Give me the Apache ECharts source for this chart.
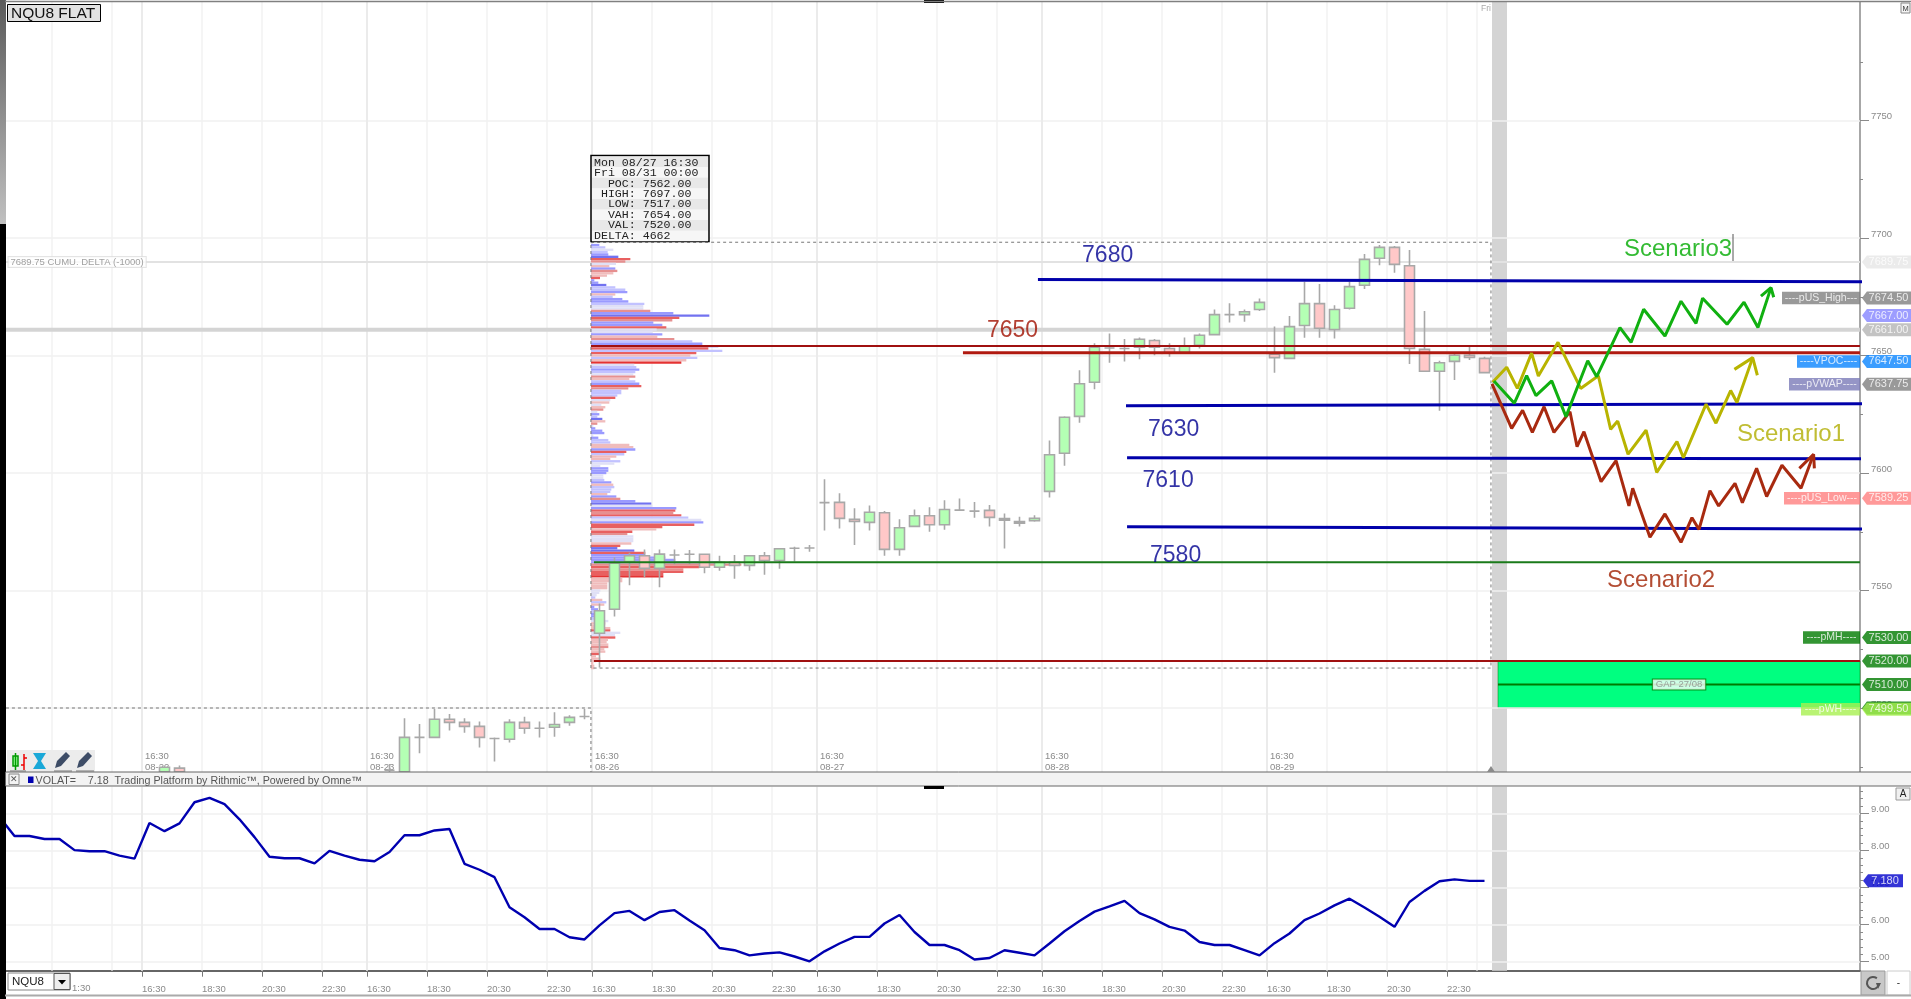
<!DOCTYPE html>
<html><head><meta charset="utf-8"><title>NQU8</title>
<style>html,body{margin:0;padding:0;background:#fff;overflow:hidden}#c{width:1911px;height:999px}</style>
<script src="https://cdn.jsdelivr.net/npm/echarts@6/dist/echarts.min.js"></script></head>
<body><div id="c"></div>
<script>
// ---------- data ----------
// candles: [bar, open, close, low, high]
const candles = [
[10,7472.9,7474.8,7472.9,7475.5],[11,7474.4,7472.9,7472.9,7475.5],[25,7473.5,7473.5,7472.9,7476.2],
[26,7472.9,7487.5,7472.9,7495.6],[27,7487.5,7487.5,7480.7,7493.2],[28,7487.5,7495.2,7487.1,7499.6],[29,7495.2,7493.9,7490.4,7497.5],
[30,7493.9,7492.2,7489.5,7495.6],[31,7492.2,7487.5,7483.2,7494.3],[32,7487,7487,7477.2,7487.4],[33,7486.7,7493.9,7485.3,7495.2],
[34,7493.9,7491.4,7489,7496.3],[35,7491.4,7491.4,7487.4,7494.3],[36,7491.8,7493,7487.8,7498.2],[37,7493.9,7496,7492.5,7496.9],[38,7496.4,7496.4,7495.2,7499.6],
[39,7531.8,7541.4,7517.25,7544.5],[40,7542,7561.6,7538.9,7564.1],[41,7562.3,7564.8,7552.2,7566.1],[42,7564.8,7559.4,7555.6,7567.5],
[43,7559.4,7565.5,7551.4,7567.5],[44,7565.1,7565.1,7561.1,7567.5],[45,7565.4,7565.4,7561.1,7567.2],[46,7565.4,7559.9,7557.3,7565.6],
[47,7559.9,7562,7558.4,7564.8],[48,7562,7560.7,7555,7565.1],[49,7560.7,7564.8,7558.4,7565],[50,7564.8,7562.8,7556.7,7566.4],
[51,7562.8,7567.8,7559.3,7568],[52,7568,7568,7562.3,7568.6],[53,7568.1,7568.1,7566.5,7569.4],[54,7587.4,7587.4,7575.5,7597.3],
[55,7587.5,7580.7,7576.4,7591.4],[56,7580.3,7579.4,7569.4,7585],[57,7579,7583.3,7575.5,7586.2],[58,7583.1,7567.5,7564.8,7583.8],
[59,7567.5,7576.7,7564.8,7580.3],[60,7577.3,7581.8,7577.3,7584.5],[61,7581.8,7578,7575,7585.4],[62,7578,7584.5,7575.9,7588.4],
[63,7584.2,7584.2,7584,7589.2],[64,7583.8,7583.8,7581,7587.7],[65,7584.1,7581.1,7577.2,7586.4],[66,7580.6,7579.9,7567.9,7582.8],
[67,7579.3,7578.6,7577.2,7581.4],[68,7579.7,7580.7,7579.3,7582],[69,7592.2,7607.8,7589.6,7613.8],[70,7608.4,7623.7,7603.1,7624.2],
[71,7624.1,7638,7621.4,7643.7],[72,7638.6,7653.5,7635.6,7655.2],[73,7653.2,7653.2,7646.9,7659.4],[74,7653,7653,7647.4,7657],
[75,7653.5,7656.9,7648.4,7657.7],[76,7656.4,7653.5,7650.1,7657],[77,7653,7651.2,7649.5,7655.2],[78,7651.2,7654,7650.9,7657.7],
[79,7654.3,7658.6,7653,7659.4],[80,7658.9,7667.4,7658.6,7669.6],[81,7667.4,7667.4,7664,7672.2],[82,7667.4,7668.6,7664.4,7669.6],
[83,7669.6,7672.6,7668.9,7674.3],[84,7650.6,7649.1,7642.7,7662.3],[85,7648.8,7662.3,7648.4,7666.8],[86,7662.8,7672.1,7657.6,7681.4],
[87,7672.1,7661.6,7657.6,7680.4],[88,7661.1,7669.6,7657.2,7671.4],[89,7670.1,7679.3,7669.6,7681.4],[90,7679.9,7690.9,7678.3,7693.2],
[91,7691.4,7696,7688.4,7697],[92,7696,7688.8,7685.2,7696.6],[93,7688.2,7653,7646.4,7694.9],[94,7652.6,7643.3,7643.3,7668.9],
[95,7643.3,7646.9,7626.5,7647.8],[96,7647.5,7650.1,7639.6,7650.6],[97,7650.1,7649.2,7648.1,7653.8],[98,7648.8,7642.7,7642.7,7649.5]
];
const barSlots = Array.from({length:124},(_, i)=>String(i));

// volume profile, top price level first
const profileTopPrice = 7697;
const profileVolumes = [
25,43,67,50,52,82,118,103,75,55,
73,79,67,48,27,10,22,46,73,103,
109,73,65,94,112,160,157,157,178,247,
355,265,244,187,214,226,197,185,214,199,
250,304,334,382,352,394,316,298,319,286,
271,130,136,145,133,127,133,115,133,145,
151,112,91,91,79,73,58,55,31,43,
37,19,25,19,34,43,19,7,13,34,
40,7,22,52,58,115,127,133,106,100,
76,58,88,70,28,52,52,46,37,37,
40,61,67,70,61,58,49,76,88,133,
181,184,256,253,247,271,292,331,337,310,
214,196,124,109,127,127,127,121,88,79,
130,163,163,223,253,394,451,325,277,277,
217,217,94,94,49,49,49,28,25,17,
13,34,46,40,10,21,28,15,15,15,
52,43,15,58,58,88,72,73,51,47,
52,52,40,43,25,15,28,15,7,10,10];
const profileKinds = ("blplbBrmpk"+"bmkkrbbBll"+"bklbblppmb"+"Brmbbrppbk"+"mlbBrlrklk"+"Rplblpmklb"+"rmlllrpkpk"+"mpblBkmpbb"+"bpbllkkbrl"+"kklppbbbpp"+"lbklllkbmb"+"Bpbrmrlpbr"+"rkrmpppkrB"+"Brbbbbmrmr"+"rRkkkkkppp"+"lklkbblbbl"+"pkkkrpprkk"+"kmkkrkkkkkk").split("");
const profileColors = {B:"#7272f0",b:"#9a9aff",l:"#c2c2ff",p:"#e0e0f6",R:"#e43232",r:"#e86060",m:"#e69090",k:"#f0bcbc"};

// volatility study, one value per bar, starting one bar before the first
const volat = [8.9,8.39,8.39,8.31,8.31,8.01,7.98,7.98,7.86,7.78,8.74,8.52,8.73,9.30,9.42,9.25,8.84,8.36,7.83,7.79,7.79,7.65,7.99,7.86,7.75,7.71,7.96,8.41,8.41,8.54,8.58,7.64,7.48,7.28,6.47,6.2,5.88,5.88,5.66,5.6,5.98,6.31,6.37,
6.12,6.34,6.39,6.11,5.85,5.37,5.31,5.17,5.22,5.25,5.14,5.01,5.28,5.49,5.67,5.67,6.03,6.26,5.8,5.45,5.45,5.31,5.06,5.1,5.31,5.24,5.17,5.49,5.82,6.1,6.35,6.49,6.64,6.31,6.14,5.94,5.84,5.53,5.45,5.45,5.31,5.17,5.5,5.76,6.12,6.3,6.52,6.7,6.46,6.21,5.94,6.61,6.91,7.17,7.22,7.18,7.18];

// hand-drawn scenario paths: [bar position, price]
const scenario3 = [[99.13,7639.2],[100.49,7629.7],[101.31,7641.4],[101.93,7632.9],[102.98,7639.2],[103.93,7624],[105.38,7647.8],[105.98,7641],[107.53,7661.9],[108.27,7655.6],[109.11,7669.7],[110.53,7658.3],[111.6,7673.1],[112.6,7663.7],[113.04,7674.4],[114.67,7663.3],[115.8,7672.7],[116.73,7661.9],[117.6,7678.9]];
const scenario3Head = [[116.93,7675.3],[117.6,7678.9],[117.78,7674.8]];
const scenario1 = [[99.04,7638.6],[99.98,7645],[100.69,7636],[101.64,7651],[102.09,7641.3],[103.4,7655.6],[104.91,7636],[106.09,7641.4],[106.91,7618.6],[107.38,7622.1],[108.07,7608],[109.27,7618.2],[109.98,7600.3],[111.33,7613.4],[111.76,7606.5],[113.27,7629.3],[113.93,7621.2],[114.91,7635.1],[115.33,7630],[116.38,7649.1]];
const scenario1Head = [[115.16,7644.1],[116.38,7649.1],[116.69,7641.6]];
const scenario2 = [[99,7637.9],[100.31,7619],[101.04,7626.7],[101.69,7617.3],[102.47,7628.2],[103.13,7617.3],[104.2,7626.1],[104.67,7611.2],[105.13,7617.6],[106.27,7596.3],[107.27,7605.3],[108.13,7586],[108.38,7593.5],[109.53,7572.7],[110.53,7582.6],[111.6,7570.5],[112.33,7581],[112.8,7576],[113.53,7592.5],[114.11,7586],[115.2,7595.6],[115.69,7587.4],[116.64,7602],[117.31,7590],[118.33,7603.3],[119.6,7593.5],[120.44,7608]];
const scenario2Head = [[119.49,7602],[120.44,7608],[120.49,7602]];

// drawn levels
const vahLine = [[38.93,7654],[123.53,7654]];
const red7650 = [[63.73,7651.2],[123.53,7651.2]];
const blue7680 = [[68.73,7682.3],[123.67,7681.4]];
const blue7630 = [[74.6,7628.6],[123.73,7629.5]];
const blue7610 = [[74.67,7606.5],[123.6,7606.1]];
const blue7580 = [[74.67,7577.1],[123.87,7576.2]];
const pocLine = [[39.13,7562],[123.53,7562]];
const valLine = [[39.13,7520],[123.53,7520]];
const gapMid = [[99.4,7510],[123.53,7510]];
const greyLevel = [[-0.07,7661],[123.53,7661]];
const deltaLevel = [[-0.07,7689.75],[123.53,7689.75]];
const profileBox = [[38.93,7517],[38.93,7698.2],[98.93,7698.2],[98.93,7517],[38.93,7517]];
const priorBox = [[-0.07,7500],[38.93,7500],[38.93,7472.8]];

// axes
const priceRange = [7472.77,7800.43];
const priceMajor = [7500,7550,7600,7650,7700,7750];
const priceMinor = [7475,7525,7575,7625,7675,7725,7775];
const volatRange = [4.757,9.72];
const volatMajor = [5,6,7,8,9];
const volatMinor = [5.2,5.4,5.6,5.8,6.2,6.4,6.6,6.8,7.2,7.4,7.6,7.8,8.2,8.4,8.6,8.8,9.2,9.4,9.6];
const barRange = [-0.0667,123.533];
const gridBars = [3,7,13,17,21,28,32,36,43,47,51,58,62,66,73,77,81,88,92,96,98];
const sessionBars = [9,24,39,54,69,84];
const sessionDates = ["08-22","08-23","08-26","08-27","08-28","08-29"];
const timeBars = [9,13,17,21,24,28,32,36,39,43,47,51,54,58,62,66,69,73,77,81,84,88,92,96];
const timeLabels = ["16:30","18:30","20:30","22:30","16:30","18:30","20:30","22:30","16:30","18:30","20:30","22:30","16:30","18:30","20:30","22:30","16:30","18:30","20:30","22:30","16:30","18:30","20:30","22:30"];
const tooltipRows = ["Mon 08/27 16:30","Fri 08/31 00:00","  POC: 7562.00"," HIGH: 7697.00","  LOW: 7517.00","  VAH: 7654.00","  VAL: 7520.00","DELTA: 4662"];

// price flags on the right and name tags left of the axis
const flagPrices = [7689.75,7674.5,7667,7661,7647.5,7637.75,7589.25,7530,7520,7510,7500,7499.5];
const flagTexts = ["7689.75","7674.50","7667.00","7661.00","7647.50","7637.75","7589.25","7530.00","7520.00","7510.00","","7499.50"];
const flagColors = ["#e6e6e6","#808080","#8484ff","#b4b4b4","#0a84ff","#808080","#ff8080","#007a00","#007a00","#007a00","#007a00","#a8f050"];
const tagTexts = ["----pUS_High---","----VPOC----","----pVWAP----","----pUS_Low---","----pMH----","----pWH----"];
const tagPrices = [7674.5,7647.5,7637.75,7589.25,7530,7499.5];
const tagColors = ["#808080","#0a84ff","#7b7bb8","#ff8080","#007a00","#a8f050"];
const tagWidths = [78,63,71,76,57,59];

// large text annotations
const noteTexts = ["7680","7650","7630","7610","7580","Scenario3","Scenario1","Scenario2"];
const noteBars = [71.67,65.33,76.07,75.7,76.2,107.8,115.33,106.67];
const notePrices = [7692.6,7660.6,7618.6,7596.8,7564.9,7695.1,7616.5,7554.2];
const noteColors = ["#000090","#a01000","#000090","#000090","#000090","#00aa00","#b0ac00","#a02000"];

// ---------- chart ----------
const FONT = "Liberation Sans";
const GREY = "#8a8a8a";
const hline = (name,data,color,width,z,extra) => Object.assign({
  name, type:"line", data, xAxisIndex:0, yAxisIndex:0, showSymbol:false, symbol:"none", silent:true, z,
  lineStyle:{color,width,cap:"butt"}, emphasis:{disabled:true}, animation:false }, extra||{});
const vmarks = (bars,color,width) => bars.map(b=>({xAxis:b,lineStyle:{color,width,type:"solid"}}));
const hmarks = (vals,color,width) => vals.map(v=>({yAxis:v,lineStyle:{color,width,type:"solid"}}));
const gridSeries = (xi,yi,hvals,range) => ({
  type:"line", data:[], xAxisIndex:xi, yAxisIndex:yi, z:1, silent:true,
  markLine:{silent:true,symbol:"none",label:{show:false},animation:false,z:1,
    data:[...hmarks(hvals,"#f0f0f0",1.5),...vmarks(gridBars,"#f2f2f2",1.5),...vmarks(sessionBars,"#ebebeb",2)]},
  markArea:{silent:true,animation:false,z:1,itemStyle:{color:"#d4d4d4"},
    data:[[{xAxis:99,yAxis:range[0]},{xAxis:100,yAxis:range[1]}]]}
});

const chrome = [];
const rect=(x,y,w,h,fill,stroke,lw)=>chrome.push({type:"rect",silent:true,z:50,shape:{x,y,width:w,height:h},style:{fill:fill||"transparent",stroke:stroke||null,lineWidth:lw||1}});
const poly=(pts,fill)=>chrome.push({type:"polygon",silent:true,z:52,shape:{points:pts},style:{fill}});
const seg=(x1,y1,x2,y2,c,lw,dash)=>chrome.push({type:"line",silent:true,z:51,shape:{x1,y1,x2,y2},style:{stroke:c,lineWidth:lw||1,lineDash:dash||null}});
const txt=(x,y,t,size,c,fam,al)=>chrome.push({type:"text",silent:true,z:53,x,y,style:{text:t,fontSize:size,fill:c,fontFamily:fam||FONT,verticalAlign:"middle",align:al||"left"}});

// left frame and top edge
chrome.push({type:"rect",silent:true,z:50,shape:{x:0,y:0,width:6,height:224},style:{fill:new echarts.graphic.LinearGradient(0,0,0,1,[{offset:0,color:"#5a5a5a"},{offset:1,color:"#c0c0c0"}])}});
rect(0,224,6,775,"#000");
seg(5,1.5,1911,1.5,"#808080",1.5);
rect(924,0,20,3,"#000");
txt(1481,9,"Fri",8.5,"#aaa");
rect(1901,3,9,10,"#f4f4f4","#888");
txt(1905.5,8.5,"M",7.5,"#333",FONT,"center");
// instrument box
rect(7.5,4.5,93,17,"#e2e2e2","#000",1);
txt(11,13.5,"NQU8 FLAT",15.5,"#111");
// cursor note caret beside Scenario3
seg(1733,234,1733,261,"#555",1);
// tool strip
rect(7,750,88,22,"#ececec");
seg(10,771,26,771,"#777",1); seg(15.5,753,15.5,770,"#090",1.5);
rect(13,756,5,10,"#9f9","#090",1.5); seg(24,754,24,770,"#e00",1.5); seg(24,758,27,758,"#e00",1.5); seg(21,765,24,765,"#e00",1.5);
poly([[33,753],[46,753],[41,761],[46,769],[33,769],[38,761]],"#1aa8d8");
poly([[55,768],[57,761],[66,752],[70,756],[61,766]],"#3d4c66"); seg(54,771,72,771,"#777",1);
poly([[77,768],[79,761],[88,752],[92,756],[83,766]],"#3d4c66"); seg(76,771,94,771,"#777",1);
// separator between panes
rect(5.5,772,1906,14,"#f3f3f3","#666",1);
rect(9,774,10,10.5,"#f3f3f3","#888",1);
txt(14,779.5,"\u2715",9,"#555",FONT,"center");
rect(28,776.5,5.5,6.5,"#0000b0");
txt(35.5,781,"VOLAT=    7.18  Trading Platform by Rithmic\u2122, Powered by Omne\u2122",10.7,"#555");
rect(924,786,20,3,"#000");
poly([[1487,772],[1491,766],[1495,772]],"#8a8a8a");
// tooltip box
rect(591,155.5,118,86,"#f2f2f2","#000",1.5);
tooltipRows.forEach((r,i)=>{ rect(592,156.5+i*10.6,116,10.6,i%2?"#f6f6f6":"#e8e8e8"); txt(594,163+i*10.35,r,11.6,"#222","Liberation Mono"); });
// bottom strip
seg(5,995.5,1911,995.5,"#aaa",2);
rect(8,973,62,17,"#fff","#888",1);
rect(54,973.5,16,16,"#eee","#555",1);
poly([[58,980],[66,980],[62,984.5]],"#000");
txt(12,981.5,"NQU8",11.5,"#222");
txt(72,988.5,"1:30",9.5,GREY);
// right bottom buttons
rect(1861,971,24,24,"#c8c8c8","#999",1);
chrome.push({type:"arc",silent:true,z:52,shape:{cx:1873,cy:983,r:6,startAngle:0.3,endAngle:5.4},style:{stroke:"#555",lineWidth:2,fill:"none"}});
poly([[1876,983],[1881,983],[1878,989]],"#555");
rect(1887,971,23,24,"#fff","#ccc",1);
txt(1898.5,983,"-",10,"#333",FONT,"center");
rect(1896,788,14,12,"#f0f0f0","#999",1);
txt(1903,794,"A",10,"#222",FONT,"center");

const noBounds = {outerBoundsMode:"none"};
const option = {
  animation:false, backgroundColor:"#fff", textStyle:{fontFamily:FONT},
  graphic:{elements:chrome},
  grid:[
    {left:6,top:2,width:1854,height:770,...noBounds},
    {left:7,top:2,width:1860,height:770,...noBounds},
    {left:591,top:243.9,width:200,height:profileVolumes.length*2.35,...noBounds},
    {left:6,top:786.7,width:1854,height:184,...noBounds},
    {left:6,top:2,width:1854,height:770,...noBounds},
    {left:6,top:786.7,width:1854,height:184,...noBounds}
  ],
  xAxis:[
    {gridIndex:0,type:"value",min:barRange[0],max:barRange[1],position:"bottom",splitLine:{show:false},axisLine:{show:false},axisTick:{show:false},
     axisLabel:{inside:true,margin:-1,align:"left",verticalAlign:"bottom",color:GREY,fontSize:9.5,lineHeight:11,padding:[0,0,0,3],showMinLabel:true,showMaxLabel:true,
       customValues:sessionBars,formatter:v=>"16:30\n"+sessionDates[sessionBars.indexOf(v)]}},
    {gridIndex:1,type:"category",data:barSlots,show:false},
    {gridIndex:2,type:"value",min:0,max:600,show:false},
    {gridIndex:3,type:"value",min:barRange[0],max:barRange[1],position:"bottom",splitLine:{show:false},
     axisLine:{show:true,onZero:false,lineStyle:{color:"#666",width:2}},
     axisTick:{show:true,length:6,customValues:timeBars,lineStyle:{color:"#777",width:1}},
     axisLabel:{margin:14,align:"left",color:GREY,fontSize:9.5,customValues:timeBars,formatter:v=>timeLabels[timeBars.indexOf(v)]}},
    {gridIndex:4,type:"value",min:barRange[0],max:barRange[1],show:false},
    {gridIndex:5,type:"value",min:barRange[0],max:barRange[1],show:false}
  ],
  yAxis:[
    {gridIndex:0,type:"value",position:"right",min:priceRange[0],max:priceRange[1],splitLine:{show:false},
     axisLine:{show:true,onZero:false,lineStyle:{color:"#8a8a8a",width:1.5}},
     axisTick:{show:true,length:9,customValues:priceMajor,lineStyle:{color:"#8a8a8a"}},
     axisLabel:{margin:11,color:GREY,fontSize:9.5,verticalAlign:"bottom",lineHeight:8,customValues:priceMajor,formatter:v=>String(v)}},
    {gridIndex:4,type:"value",position:"right",min:priceRange[0],max:priceRange[1],splitLine:{show:false},axisLine:{show:false,onZero:false},
     axisTick:{show:true,length:3,customValues:priceMinor,lineStyle:{color:"#8a8a8a"}},axisLabel:{show:false}},
    {gridIndex:1,type:"value",min:priceRange[0],max:priceRange[1],show:false},
    {gridIndex:2,type:"category",inverse:true,show:false,data:profileVolumes.map((_,i)=>profileTopPrice-i)},
    {gridIndex:3,type:"value",position:"right",min:volatRange[0],max:volatRange[1],splitLine:{show:false},
     axisLine:{show:true,onZero:false,lineStyle:{color:"#8a8a8a",width:1.5}},
     axisTick:{show:true,length:9,customValues:volatMajor,lineStyle:{color:"#8a8a8a"}},
     axisLabel:{margin:11,color:GREY,fontSize:9.5,verticalAlign:"bottom",lineHeight:8,customValues:volatMajor,formatter:v=>v.toFixed(2)}},
    {gridIndex:5,type:"value",position:"right",min:volatRange[0],max:volatRange[1],splitLine:{show:false},axisLine:{show:false,onZero:false},
     axisTick:{show:true,length:3,customValues:volatMinor,lineStyle:{color:"#8a8a8a"}},axisLabel:{show:false}}
  ],
  series:[
    gridSeries(0,0,priceMajor,priceRange),
    gridSeries(3,4,volatMajor,volatRange),
    hline("grey",greyLevel,"#d4d4d4",4,2),
    hline("delta",deltaLevel,"#e2e2e2",2,2),
    {name:"profile",type:"bar",xAxisIndex:2,yAxisIndex:3,z:3,barWidth:"100%",barCategoryGap:0,silent:true,
     data:profileVolumes.map((v,i)=>({value:v,itemStyle:{color:profileColors[profileKinds[i]]||"#ccc"}}))},
    hline("profileBox",profileBox,"#777",1,3,{lineStyle:{color:"#777",width:1,type:[3,3]}}),
    hline("priorBox",priorBox,"#777",1,3,{lineStyle:{color:"#777",width:1,type:[3,3]},clip:true}),
    {name:"gap",type:"line",data:[],xAxisIndex:0,yAxisIndex:0,z:4,silent:true,
     markArea:{silent:true,animation:false,itemStyle:{color:"#00ff80",borderColor:"#007a00",borderWidth:0.5},data:[[{xAxis:99.4,yAxis:7520},{xAxis:barRange[1],yAxis:7500}]]}},
    {name:"NQU8",type:"candlestick",xAxisIndex:1,yAxisIndex:2,z:5,silent:true,barWidth:11,clip:true,
     data:candles,encode:{x:0,y:[1,2,3,4]},
     itemStyle:{color:"#b4ffb4",color0:"#ffc8c8",borderColor:"#a8a8a8",borderColor0:"#a8a8a8",borderColorDoji:"#a8a8a8",borderWidth:1.6}},
    hline("VAH",vahLine,"#a01010",2,6),
    hline("7650",red7650,"#b01a10",3,6),
    hline("7680",blue7680,"#0000aa",3,6,{clip:false}),
    hline("7630",blue7630,"#0000aa",3,6,{clip:false}),
    hline("7610",blue7610,"#0000aa",3,6,{clip:false}),
    hline("7580",blue7580,"#0000aa",3,6,{clip:false}),
    hline("POC",pocLine,"#1a7a1a",2,6),
    hline("VAL",valLine,"#a01010",2,6),
    hline("gapMid",gapMid,"#007a00",2,6),
    hline("Scenario1",scenario1,"#b8b400",3,7),
    hline("Scenario1 head",scenario1Head,"#b8b400",3,7),
    hline("Scenario3",scenario3,"#10b010",3,8),
    hline("Scenario3 head",scenario3Head,"#10b010",3,8),
    hline("Scenario2",scenario2,"#a82a10",3,7),
    hline("Scenario2 head",scenario2Head,"#a82a10",3,7),
    {name:"notes",type:"scatter",xAxisIndex:0,yAxisIndex:0,z:9,silent:true,symbolSize:0,clip:false,
     data:noteTexts.map((t,i)=>({value:[noteBars[i],notePrices[i]],
       label:{show:true,formatter:t,position:"right",distance:0,align:"left",verticalAlign:"middle",fontSize:t.length>4?24:23,color:noteColors[i],fontFamily:FONT}}))},
    {name:"deltaTag",type:"scatter",xAxisIndex:0,yAxisIndex:0,z:9,silent:true,symbolSize:0,
     data:[{value:[0.1,7689.75],label:{show:true,position:"right",distance:0,formatter:"7689.75 CUMU. DELTA (-1000)",fontSize:9.5,color:"#888",backgroundColor:"#fff",borderColor:"#ddd",borderWidth:1,padding:[0,2]}}]},
    {name:"gapTag",type:"scatter",xAxisIndex:0,yAxisIndex:0,z:9,silent:true,symbolSize:0,
     data:[{value:[111.47,7510],label:{show:true,position:"inside",formatter:"GAP 27/08",fontSize:9.5,color:"#888",backgroundColor:"#fff",borderColor:"#007a00",borderWidth:1,padding:[0,3]}}]},
    {name:"tags",type:"scatter",xAxisIndex:0,yAxisIndex:0,z:10,silent:true,clip:false,symbol:"rect",
     data:tagTexts.map((t,i)=>({value:[barRange[1],tagPrices[i]],symbolSize:[tagWidths[i],12.5],symbolOffset:[-tagWidths[i]/2,0],
       itemStyle:{color:tagColors[i]},label:{show:true,position:"inside",formatter:t,color:"#fff",fontSize:10.5}}))},
    {name:"flags",type:"scatter",xAxisIndex:0,yAxisIndex:0,z:11,silent:true,clip:false,
     symbol:"path://M0 6.5 L5 0 L50 0 L50 13 L5 13 Z",symbolKeepAspect:false,symbolSize:[49,13],symbolOffset:[26.5,0],
     data:flagPrices.map((p,i)=>({value:[barRange[1],p],itemStyle:{color:flagColors[i]},
       label:{show:!!flagTexts[i],position:"inside",formatter:flagTexts[i],color:"#fff",fontSize:11,offset:[2,0]}}))},
    {name:"VOLAT",type:"line",xAxisIndex:3,yAxisIndex:4,z:6,silent:true,showSymbol:false,symbol:"none",clip:true,
     data:volat.map((v,i)=>[i-0.5,v]),lineStyle:{color:"#0000b0",width:2.4}},
    {name:"volatFlag",type:"scatter",xAxisIndex:3,yAxisIndex:4,z:11,silent:true,clip:false,
     symbol:"path://M0 6.5 L5 0 L40 0 L40 13 L5 13 Z",symbolKeepAspect:false,symbolSize:[40,13],symbolOffset:[23,0],
     data:[{value:[barRange[1],7.18],itemStyle:{color:"#0000cc"},label:{show:true,position:"inside",formatter:"7.180",color:"#fff",fontSize:11,offset:[2,0]}}]}
  ]
};
const chart = echarts.init(document.getElementById("c"),null,{renderer:"canvas",width:1911,height:999});
chart.setOption(option);
</script></body></html>
